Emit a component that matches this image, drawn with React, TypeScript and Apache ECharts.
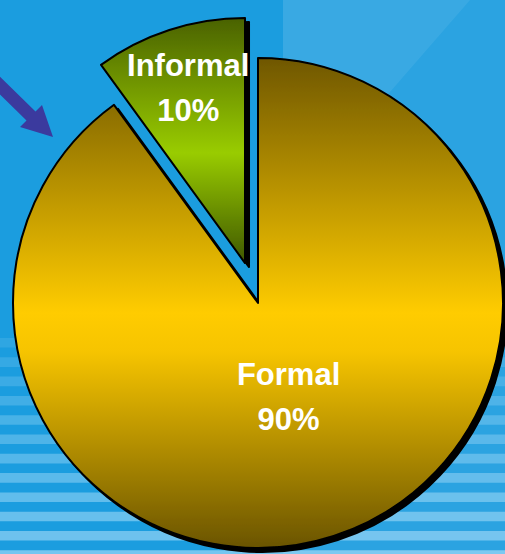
import React, { useEffect, useRef } from "react";
import * as echarts from "echarts";

const categories = ["Formal", "Informal"];
const values = [90, 10];
const explodedCategory = "Informal";

export default function App() {
  const ref = useRef<HTMLDivElement>(null);

  useEffect(() => {
    if (!ref.current) return;
    const chart = echarts.init(ref.current, null, { renderer: "svg" });

    const W = 505;
    const H = 554;
    const center = [258, 303];

    const fills: Record<string, any> = {
      Formal: {
        type: "linear", x: 0, y: 0, x2: 0, y2: 1,
        colorStops: [
          { offset: 0, color: "#6f5700" },
          { offset: 0.52, color: "#ffcc00" },
          { offset: 0.6, color: "#f6c400" },
          { offset: 1, color: "#6a5400" },
        ],
      },
      Informal: {
        type: "linear", x: 0, y: 0, x2: 0, y2: 1,
        colorStops: [
          { offset: 0, color: "#4a6200" },
          { offset: 0.55, color: "#99cc00" },
          { offset: 1, color: "#3f5700" },
        ],
      },
    };

    // background decoration
    const bg: any[] = [];
    bg.push({ type: "rect", z: -10, shape: { x: 283, y: 0, width: W - 283, height: H }, style: { fill: "rgba(255,255,255,0.07)" } });
    bg.push({ type: "polygon", z: -9, shape: { points: [[283, 0], [470, 0], [283, 215]] }, style: { fill: "rgba(255,255,255,0.07)" } });
    for (let i = 0; i < 12; i++) {
      const y = 338 + i * 19.3;
      const t = i / 11;
      bg.push({
        type: "rect", z: -8,
        shape: { x: 0, y, width: W, height: 9.6 },
        style: { fill: `rgba(200,235,255,${0.12 + 0.4 * t})` },
      });
    }
    // arrow
    bg.push({
      type: "polygon", z: -5,
      shape: {
        points: [[-15.5, 61.5], [35.5, 111.5], [42, 105], [53, 137], [20, 127], [26.5, 120.5], [-24.5, 70.5]],
      },
      style: { fill: "#3b3a9e" },
    });

    const labelStyle = {
      color: "#ffffff",
      fontFamily: "Liberation Sans, Arial, sans-serif",
      fontWeight: "bold",
      fontSize: 31,
      lineHeight: 45,
    };

    const labelData = (shown: string) =>
      categories.map((c, i) => ({
        name: c,
        value: values[i],
        label: { show: c === shown },
      }));

    chart.setOption({
      animation: false,
      backgroundColor: "#1b9ddf",
      graphic: bg,
      series: [
        {
          type: "pie",
          z: 2,
          center,
          radius: 245,
          startAngle: 90,
          clockwise: true,
          silent: true,
          selectedMode: "single",
          selectedOffset: 42,
          label: { show: false },
          labelLine: { show: false },
          emphasis: { disabled: true },
          data: categories.map((c, i) => ({
            name: c,
            value: values[i],
            selected: c === explodedCategory,
            itemStyle: {
              color: fills[c],
              borderColor: "#000",
              borderWidth: 2,
              shadowColor: "#000",
              shadowBlur: 1,
              shadowOffsetX: 4,
              shadowOffsetY: 4,
            },
          })),
        },
        {
          type: "pie",
          z: 3,
          center,
          radius: 192,
          startAngle: 90,
          clockwise: true,
          silent: true,
          itemStyle: { color: "rgba(0,0,0,0)" },
          label: { position: "inside", formatter: (p: any) => `${p.name}\n${p.percent}%`, ...labelStyle },
          labelLine: { show: false },
          emphasis: { disabled: true },
          data: labelData("Formal"),
        },
        {
          type: "pie",
          z: 3,
          center,
          radius: 446,
          startAngle: 90,
          clockwise: true,
          silent: true,
          itemStyle: { color: "rgba(0,0,0,0)" },
          label: { position: "inside", formatter: (p: any) => `${p.name}\n${p.percent}%`, ...labelStyle },
          labelLine: { show: false },
          emphasis: { disabled: true },
          data: labelData("Informal"),
        },
      ],
    });

    return () => chart.dispose();
  }, []);

  return (
    <div
      ref={ref}
      style={{ position: "fixed", left: 0, top: 0, width: 505, height: 554 }}
    />
  );
}
